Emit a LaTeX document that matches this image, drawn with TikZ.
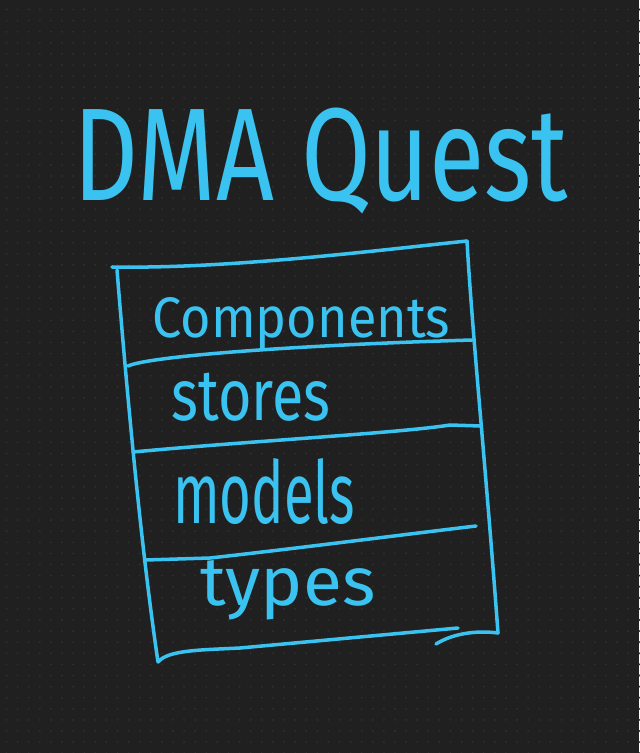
\documentclass[tikz,border=0pt]{standalone}
\usepackage{fontspec}
\usepackage{graphicx}
\newfontfamily\handfont{Fira Sans}

\definecolor{boardbg}{RGB}{32,32,32}
\definecolor{boarddot}{RGB}{47,47,47}
\definecolor{ink}{RGB}{58,195,240}

\tikzset{
  pen/.style={draw=ink,line width=2pt,line cap=round,line join=round},
  word/.style={anchor=base west,inner sep=0pt,text=ink}
}

\begin{document}
\begin{tikzpicture}[x=0.02cm,y=-0.02cm]

\fill[boardbg] (0,0) rectangle (639,753);
\useasboundingbox (0,0) rectangle (639,753);
\foreach \i in {0,...,57}
  \foreach \j in {0,...,67}
    \fill[boarddot] (6.5+11.1*\i,9.5+11.1*\j) circle (0.6pt);

\node[word] (title) at (73,200) {\handfont\resizebox{9.9cm}{1.85cm}{DMA Quest}};

% the box and its rows
\coordinate (tl) at (112,267);
\coordinate (tr) at (467,241);
\coordinate (bl) at (158,662);
\coordinate (br) at (498,633);

\draw[pen] (tl) .. controls (230,269) and (380,250) .. (tr);
\draw[pen] (tr) .. controls (472,330) and (486,470) .. (br);
\draw[pen] (117,270) .. controls (126,380) and (140,540) .. (bl);
\draw[pen] (bl) .. controls (168,650) and (200,650) .. (240,648) -- (458,628);
\draw[pen] (436,644) .. controls (452,634) and (475,630) .. (br);

\draw[pen] (128,366) .. controls (150,356) and (300,345) .. (472,340);
\draw[pen] (133,452) .. controls (250,441) and (400,433) .. (450,425) -- (481,426);
\draw[pen] (145,560) -- (210,558) .. controls (300,548) and (400,535) .. (476,526);

\node[word] (comp) at (152,337) {\handfont\resizebox{5.96cm}{0.8cm}{Components}};
\node[word] (stores) at (171,420) {\handfont\resizebox{3.18cm}{0.95cm}{stores}};
\node[word] (models) at (173,523) {\handfont\resizebox{3.64cm}{1.3cm}{models}};
\node[word] (types) at (200,605) {\handfont\resizebox{3.5cm}{0.9cm}{types}};
\end{tikzpicture}
\end{document}
